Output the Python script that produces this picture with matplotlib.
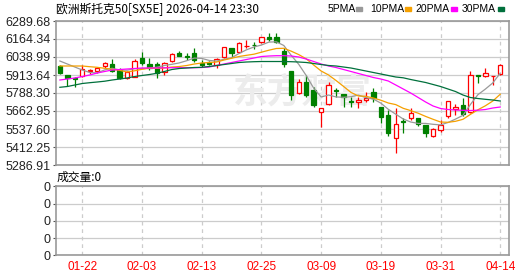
import matplotlib
matplotlib.use("Agg")
import matplotlib.pyplot as plt
from matplotlib.patches import Rectangle
import numpy as np

plt.rcParams['font.family'] = ['Noto Sans CJK SC', 'DejaVu Sans']

# trading days 2026-01-19 .. 2026-04-14
dates = ["01-19", "01-20", "01-21", "01-22", "01-23", "01-26", "01-27", "01-28", "01-29", "01-30",
         "02-02", "02-03", "02-04", "02-05", "02-06", "02-09", "02-10", "02-11", "02-12", "02-13",
         "02-16", "02-17", "02-18", "02-19", "02-20", "02-23", "02-24", "02-25", "02-26", "02-27",
         "03-02", "03-03", "03-04", "03-05", "03-06", "03-09", "03-10", "03-11", "03-12", "03-13",
         "03-16", "03-17", "03-18", "03-19", "03-20", "03-23", "03-24", "03-25", "03-26", "03-27",
         "03-30", "03-31", "04-01", "04-02", "04-07", "04-08", "04-09", "04-10", "04-13", "04-14"]

opens = [5976.3, 5913.6, 5894.8, 5908.8, 5939.4, 5943.6, 5978.4, 5988.1, 5945.0, 5889.3,
         5901.7, 6034.1, 5988.1, 5988.1, 5936.6, 6013.2, 6064.7, 6043.8, 6064.7, 5999.3,
         6006.3, 5983.3, 6036.9, 6099.6, 6075.9, 6113.5, 6124.6, 6141.3, 6176.2, 6176.2,
         6082.9, 5941.5, 5786.2, 5864.9, 5809.2, 5653.9, 5711.7, 5807.1, 5779.2, 5730.3,
         5723.5, 5739.5, 5793.1, 5688.7, 5635.1, 5472.8, 5591.2, 5612.1, 5616.3, 5565.4,
         5490.9, 5530.6, 5628.1, 5674.8, 5704.7, 5658.0, 5913.6, 5906.7, 5904.6, 5920.6]
closes = [5925.5, 5892.7, 5885.8, 5953.3, 5948.4, 5960.3, 5999.3, 5941.5, 5896.2, 5936.6,
          6013.2, 5999.3, 5964.5, 5925.5, 5995.1, 6057.8, 6048.0, 6039.0, 6018.1, 5983.3,
          5988.1, 6023.0, 6106.5, 6064.7, 6134.4, 6117.7, 6120.5, 6176.2, 6164.3, 6145.5,
          5990.2, 5774.3, 5867.0, 5774.3, 5704.7, 5681.7, 5844.0, 5802.2, 5758.3, 5725.6,
          5739.5, 5755.5, 5751.4, 5619.0, 5507.6, 5570.3, 5586.3, 5646.9, 5572.4, 5507.6,
          5537.6, 5565.4, 5732.6, 5688.7, 5642.0, 5913.6, 5906.7, 5925.5, 5906.7, 5983.3]
highs = [5983.3, 5916.0, 5901.7, 5983.3, 5957.5, 5964.5, 6006.3, 6023.0, 5959.9, 5941.5,
         6023.0, 6075.9, 6032.0, 6002.1, 6002.1, 6064.7, 6082.9, 6068.9, 6099.6, 6018.1,
         6013.2, 6029.9, 6110.7, 6101.6, 6145.5, 6157.4, 6141.3, 6178.3, 6204.0, 6204.0,
         6099.6, 5941.5, 5883.7, 5913.6, 5832.1, 5681.7, 5862.8, 5825.2, 5779.2, 5762.5,
         5762.5, 5797.3, 5825.2, 5688.7, 5669.9, 5681.7, 5612.1, 5681.7, 5616.3, 5565.4,
         5546.6, 5600.2, 5732.6, 5709.6, 5755.5, 5943.6, 5913.6, 5960.3, 5906.7, 5990.2]
lows = [5920.6, 5840.5, 5828.0, 5901.7, 5918.5, 5925.5, 5964.5, 5936.6, 5885.8, 5885.8,
        5897.6, 5983.3, 5951.9, 5894.8, 5910.2, 6002.1, 6048.0, 6018.1, 6006.3, 5971.4,
        5983.3, 5960.3, 6029.9, 6036.9, 6064.7, 6099.6, 6094.7, 6139.9, 6152.5, 6134.4,
        5971.4, 5739.5, 5779.2, 5760.4, 5688.7, 5549.4, 5704.7, 5762.5, 5692.9, 5692.9,
        5681.7, 5723.5, 5723.5, 5577.3, 5488.8, 5372.5, 5511.8, 5600.2, 5558.5, 5479.8,
        5483.9, 5518.8, 5612.1, 5635.1, 5630.2, 5651.1, 5855.8, 5897.6, 5844.0, 5913.6]

ma5 = [6011.1, 5990.2, 5969.3, 5948.4, 5931.0, 5928.2, 5949.1, 5960.3, 5949.1, 5947.0,
       5957.5, 5957.5, 5961.7, 5967.9, 5979.8, 5988.1, 5997.9, 6013.2, 6031.3, 6029.2,
       6015.3, 6010.4, 6023.6, 6033.4, 6063.3, 6089.1, 6108.6, 6122.5, 6142.7, 6144.8,
       6119.1, 6050.1, 5988.1, 5910.1, 5822.4, 5760.4, 5774.3, 5761.1, 5758.3, 5762.5,
       5773.6, 5756.3, 5745.8, 5717.9, 5674.8, 5640.6, 5607.2, 5586.3, 5576.5, 5576.5,
       5570.3, 5566.1, 5582.8, 5606.5, 5633.0, 5708.2, 5776.4, 5815.4, 5858.6, 5926.8]
ma10 = [5976.3, 5976.3, 5976.3, 5976.3, 5971.4, 5967.2, 5960.3, 5953.3, 5946.3, 5934.5,
        5942.9, 5953.3, 5961.0, 5959.6, 5962.3, 5969.3, 5972.8, 5979.8, 5990.2, 5997.2,
        6000.7, 6004.1, 6018.1, 6029.9, 6042.5, 6050.8, 6058.5, 6072.4, 6086.3, 6098.2,
        6099.6, 6079.4, 6055.7, 6026.4, 5983.2, 5941.5, 5913.6, 5875.3, 5834.2, 5792.4,
        5767.4, 5765.3, 5753.4, 5738.1, 5718.6, 5707.5, 5681.7, 5665.7, 5647.6, 5625.3,
        5605.1, 5586.3, 5584.2, 5591.2, 5605.1, 5639.3, 5671.3, 5699.1, 5732.5, 5779.9]
ma20 = [5878.8, 5885.7, 5892.7, 5903.2, 5913.6, 5927.5, 5938.0, 5948.4, 5951.9, 5955.4,
        5958.9, 5962.3, 5962.3, 5962.3, 5963.7, 5964.4, 5964.4, 5964.4, 5964.4, 5965.8,
        5969.3, 5979.8, 5990.2, 6000.7, 6011.1, 6021.6, 6032.0, 6042.4, 6045.9, 6048.0,
        6048.0, 6045.9, 6038.9, 6025.0, 6007.6, 5990.2, 5976.3, 5965.8, 5951.9, 5938.0,
        5924.1, 5910.1, 5896.2, 5885.7, 5871.8, 5844.0, 5816.1, 5788.2, 5757.0, 5725.6,
        5697.7, 5680.3, 5673.3, 5669.9, 5667.8, 5666.4, 5668.5, 5673.3, 5683.8, 5690.8]
ma30 = [5828.0, 5833.5, 5844.0, 5854.4, 5860.0, 5864.9, 5870.4, 5878.8, 5885.7, 5892.7,
        5903.2, 5910.1, 5917.1, 5925.5, 5938.0, 5951.9, 5958.9, 5962.3, 5965.8, 5967.2,
        5972.8, 5979.8, 5986.7, 5993.7, 6000.7, 6004.1, 6006.2, 6007.6, 6007.6, 6007.6,
        6007.6, 6006.2, 6004.1, 6000.7, 5993.7, 5986.7, 5979.8, 5976.3, 5969.3, 5962.3,
        5951.9, 5941.5, 5931.0, 5920.6, 5910.1, 5899.7, 5894.1, 5882.3, 5871.8, 5861.4,
        5847.5, 5833.5, 5816.1, 5798.7, 5774.3, 5756.9, 5749.9, 5744.4, 5739.5, 5732.5]

tick_dates = ["01-22", "02-03", "02-13", "02-25", "03-09", "03-19", "03-31", "04-14"]
price_ticks = ["6289.68", "6164.34", "6038.99", "5913.64", "5788.30",
               "5662.95", "5537.60", "5412.25", "5286.91"]
vol_ticks = ["0", "0", "0", "0", "0"]
ma_names = ["5PMA", "10PMA", "20PMA", "30PMA"]
ma_colors = ["#999999", "#f5a000", "#ff00ff", "#00703c"]

title = "欧洲斯托克50[SX5E] 2026-04-14 23:30"
vol_title = "成交量:0"

W, H = 530, 276
fig = plt.figure(figsize=(W / 100, H / 100), dpi=100)

def box(x0, y0, x1, y1):
    # pixel box (top-left origin) -> figure fraction
    return [x0 / W, 1 - y1 / H, (x1 - x0) / W, (y1 - y0) / H]

ax = fig.add_axes(box(55.7, 21, 509, 165))
axv = fig.add_axes(box(55.7, 186.3, 509, 255.3))

x = np.arange(len(dates))
o, c, h, l = map(np.array, (opens, closes, highs, lows))
up = c >= o
dn = ~up

# wicks then bodies
ax.vlines(x[up], l[up], h[up], color="red", lw=0.9, zorder=2)
ax.vlines(x[dn], l[dn], h[dn], color="#008000", lw=0.9, zorder=2)
ax.bar(x[up], c[up] - o[up], bottom=o[up], width=0.58, facecolor="white",
       edgecolor="red", lw=0.9, zorder=3)
ax.bar(x[dn], o[dn] - c[dn], bottom=c[dn], width=0.58, facecolor="#008000",
       edgecolor="#008000", lw=0.9, zorder=3)

for vals, col in zip([ma5, ma10, ma20, ma30], ma_colors):
    ax.plot(x, vals, color=col, lw=0.9, zorder=4)

# faint watermark
ax.text(233 / W, 1 - 92 / H, "东方财富", transform=fig.transFigure, fontsize=25,
        fontweight="bold", color="#ececec", va="center", ha="left", zorder=0.8)

tick_pos = [dates.index(d) for d in tick_dates]
yvals = [float(t) for t in price_ticks]

for a in (ax, axv):
    a.set_xlim(-0.56, 60.17)
    a.set_xticks(tick_pos)
    for s in a.spines.values():
        s.set_color("#999999")
        s.set_linewidth(1.2)
    a.grid(axis="y", color="#cccccc", lw=0.9, ls="-")
    a.grid(axis="x", color="#cccccc", lw=0.9, ls=(0, (3, 3)))
    a.set_axisbelow(True)
    a.tick_params(axis="y", length=2.5, width=0.8, color="#555555", pad=1.5,
                  labelsize=9, labelcolor="#222222")
    a.tick_params(axis="x", length=0)

ax.set_ylim(yvals[-1], yvals[0])
ax.set_yticks(yvals)
ax.set_yticklabels(price_ticks, family="Liberation Sans")
ax.set_xticklabels([])

axv.set_ylim(0, 4)
axv.set_yticks(range(len(vol_ticks)))
axv.set_yticklabels(vol_ticks, family="Liberation Sans")
axv.set_xticklabels(tick_dates, color="red", fontsize=8.5, family="Liberation Sans")
axv.tick_params(axis="x", pad=4)

fig.text(56 / W, 1 - 9 / H, title, fontsize=8.5, va="center", ha="left")
fig.text(57 / W, 1 - 177.5 / H, vol_title, fontsize=8.5, va="center", ha="left")

legend_x = [327.5, 370, 415, 461.5]
sq_x = [356, 404.5, 450.5, 497.5]
for name, col, tx, sx in zip(ma_names, ma_colors, legend_x, sq_x):
    fig.text(tx / W, 1 - 9 / H, name, fontsize=7.5, va="center", ha="left",
             family="Liberation Sans")
    fig.add_artist(Rectangle((sx / W, 1 - 11 / H), 6 / W, 4 / H,
                             transform=fig.transFigure, color=col))

fig.savefig("out.png", dpi=100)
